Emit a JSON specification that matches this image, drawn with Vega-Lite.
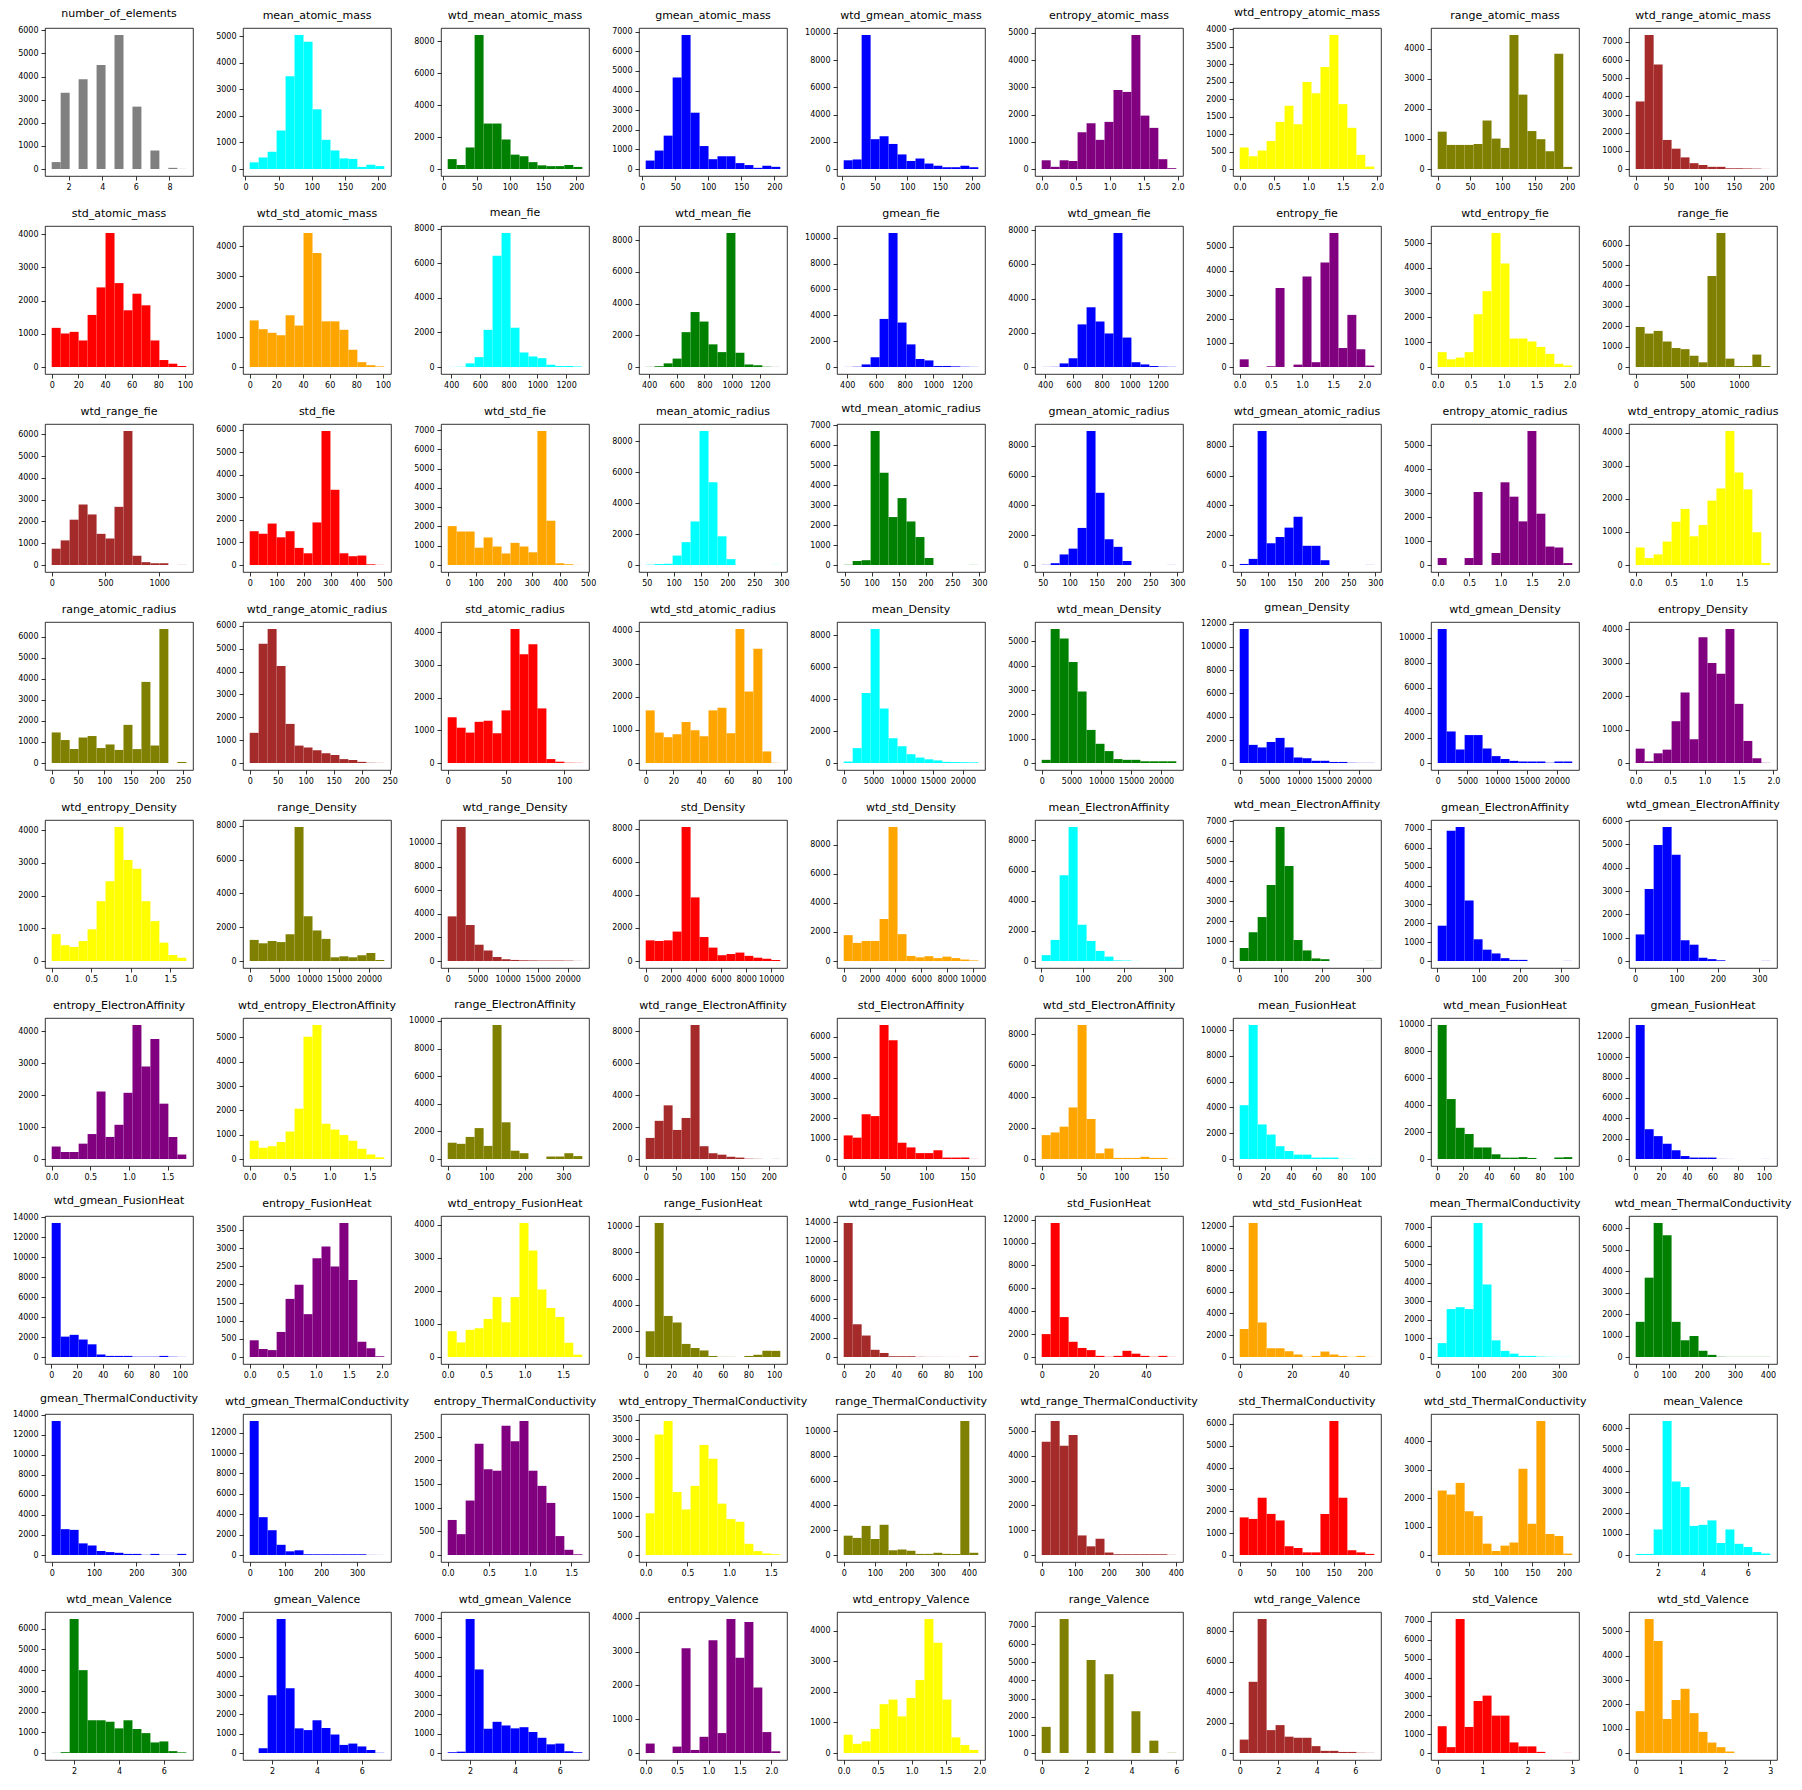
{
"$schema":"https://vega.github.io/schema/vega-lite/v6.json",
"background":"white",
"padding":{"left":12,"top":7,"right":5,"bottom":5},
"bounds":"flush",
"datasets":{"bins":[
{"k":0,"a":1,"b":1.533,"n":300},{"k":0,"a":1.533,"b":2.067,"n":3300},{"k":0,"a":2.067,"b":2.6,"n":0},{"k":0,"a":2.6,"b":3.133,"n":3880},{"k":0,"a":3.133,"b":3.667,"n":0},{"k":0,"a":3.667,"b":4.2,"n":4500},{"k":0,"a":4.2,"b":4.733,"n":0},{"k":0,"a":4.733,"b":5.267,"n":5800},{"k":0,"a":5.267,"b":5.8,"n":0},{"k":0,"a":5.8,"b":6.333,"n":2700},{"k":0,"a":6.333,"b":6.867,"n":0},{"k":0,"a":6.867,"b":7.4,"n":800},{"k":0,"a":7.4,"b":7.933,"n":0},{"k":0,"a":7.933,"b":8.467,"n":50},{"k":0,"a":8.467,"b":9,"n":5},
{"k":1,"a":6.4,"b":19.9,"n":250},{"k":1,"a":19.9,"b":33.4,"n":430},{"k":1,"a":33.4,"b":46.9,"n":650},{"k":1,"a":46.9,"b":60.4,"n":1450},{"k":1,"a":60.4,"b":73.9,"n":3500},{"k":1,"a":73.9,"b":87.4,"n":5050},{"k":1,"a":87.4,"b":101,"n":4800},{"k":1,"a":101,"b":114.5,"n":2250},{"k":1,"a":114.5,"b":128,"n":1100},{"k":1,"a":128,"b":141.5,"n":700},{"k":1,"a":141.5,"b":155,"n":400},{"k":1,"a":155,"b":168.5,"n":380},{"k":1,"a":168.5,"b":182,"n":80},{"k":1,"a":182,"b":195.5,"n":160},{"k":1,"a":195.5,"b":209,"n":110},
{"k":2,"a":6.4,"b":19.9,"n":620},{"k":2,"a":19.9,"b":33.4,"n":250},{"k":2,"a":33.4,"b":46.9,"n":1350},{"k":2,"a":46.9,"b":60.4,"n":8400},{"k":2,"a":60.4,"b":73.9,"n":2850},{"k":2,"a":73.9,"b":87.4,"n":2850},{"k":2,"a":87.4,"b":101,"n":1850},{"k":2,"a":101,"b":114.5,"n":900},{"k":2,"a":114.5,"b":128,"n":800},{"k":2,"a":128,"b":141.5,"n":430},{"k":2,"a":141.5,"b":155,"n":230},{"k":2,"a":155,"b":168.5,"n":180},{"k":2,"a":168.5,"b":182,"n":180},{"k":2,"a":182,"b":195.5,"n":250},{"k":2,"a":195.5,"b":209,"n":130},
{"k":3,"a":5.3,"b":18.9,"n":430},{"k":3,"a":18.9,"b":32.5,"n":940},{"k":3,"a":32.5,"b":46.1,"n":1700},{"k":3,"a":46.1,"b":59.6,"n":4670},{"k":3,"a":59.6,"b":73.2,"n":6830},{"k":3,"a":73.2,"b":86.8,"n":2870},{"k":3,"a":86.8,"b":100.4,"n":1170},{"k":3,"a":100.4,"b":113.9,"n":500},{"k":3,"a":113.9,"b":127.5,"n":650},{"k":3,"a":127.5,"b":141.1,"n":650},{"k":3,"a":141.1,"b":154.7,"n":300},{"k":3,"a":154.7,"b":168.3,"n":200},{"k":3,"a":168.3,"b":181.8,"n":60},{"k":3,"a":181.8,"b":195.4,"n":170},{"k":3,"a":195.4,"b":209,"n":110},
{"k":4,"a":2,"b":15.8,"n":640},{"k":4,"a":15.8,"b":29.6,"n":700},{"k":4,"a":29.6,"b":43.4,"n":9840},{"k":4,"a":43.4,"b":57.2,"n":2190},{"k":4,"a":57.2,"b":71,"n":2400},{"k":4,"a":71,"b":84.8,"n":1840},{"k":4,"a":84.8,"b":98.6,"n":1070},{"k":4,"a":98.6,"b":112.4,"n":590},{"k":4,"a":112.4,"b":126.2,"n":770},{"k":4,"a":126.2,"b":140,"n":400},{"k":4,"a":140,"b":153.8,"n":240},{"k":4,"a":153.8,"b":167.6,"n":130},{"k":4,"a":167.6,"b":181.4,"n":130},{"k":4,"a":181.4,"b":195.2,"n":240},{"k":4,"a":195.2,"b":209,"n":130},
{"k":5,"a":0,"b":0.132,"n":320},{"k":5,"a":0.132,"b":0.264,"n":80},{"k":5,"a":0.264,"b":0.396,"n":320},{"k":5,"a":0.396,"b":0.528,"n":290},{"k":5,"a":0.528,"b":0.66,"n":1350},{"k":5,"a":0.66,"b":0.792,"n":1680},{"k":5,"a":0.792,"b":0.924,"n":1070},{"k":5,"a":0.924,"b":1.056,"n":1730},{"k":5,"a":1.056,"b":1.188,"n":2900},{"k":5,"a":1.188,"b":1.32,"n":2830},{"k":5,"a":1.32,"b":1.452,"n":4920},{"k":5,"a":1.452,"b":1.584,"n":1960},{"k":5,"a":1.584,"b":1.716,"n":1510},{"k":5,"a":1.716,"b":1.848,"n":360},{"k":5,"a":1.848,"b":1.98,"n":30},
{"k":6,"a":0,"b":0.131,"n":615},{"k":6,"a":0.131,"b":0.261,"n":365},{"k":6,"a":0.261,"b":0.392,"n":530},{"k":6,"a":0.392,"b":0.522,"n":800},{"k":6,"a":0.522,"b":0.653,"n":1350},{"k":6,"a":0.653,"b":0.783,"n":1810},{"k":6,"a":0.783,"b":0.914,"n":1280},{"k":6,"a":0.914,"b":1.044,"n":2490},{"k":6,"a":1.044,"b":1.175,"n":2170},{"k":6,"a":1.175,"b":1.305,"n":2920},{"k":6,"a":1.305,"b":1.436,"n":3840},{"k":6,"a":1.436,"b":1.566,"n":1860},{"k":6,"a":1.566,"b":1.697,"n":1180},{"k":6,"a":1.697,"b":1.827,"n":405},{"k":6,"a":1.827,"b":1.958,"n":70},
{"k":7,"a":0,"b":13.9,"n":1240},{"k":7,"a":13.9,"b":27.7,"n":800},{"k":7,"a":27.7,"b":41.6,"n":800},{"k":7,"a":41.6,"b":55.5,"n":800},{"k":7,"a":55.5,"b":69.3,"n":830},{"k":7,"a":69.3,"b":83.2,"n":1610},{"k":7,"a":83.2,"b":97.1,"n":1010},{"k":7,"a":97.1,"b":110.9,"n":700},{"k":7,"a":110.9,"b":124.8,"n":4450},{"k":7,"a":124.8,"b":138.6,"n":2470},{"k":7,"a":138.6,"b":152.5,"n":1260},{"k":7,"a":152.5,"b":166.4,"n":990},{"k":7,"a":166.4,"b":180.2,"n":590},{"k":7,"a":180.2,"b":194.1,"n":3830},{"k":7,"a":194.1,"b":208,"n":70},
{"k":8,"a":0,"b":13.7,"n":3720},{"k":8,"a":13.7,"b":27.4,"n":7380},{"k":8,"a":27.4,"b":41.1,"n":5760},{"k":8,"a":41.1,"b":54.8,"n":1600},{"k":8,"a":54.8,"b":68.5,"n":1120},{"k":8,"a":68.5,"b":82.2,"n":640},{"k":8,"a":82.2,"b":95.9,"n":320},{"k":8,"a":95.9,"b":109.6,"n":220},{"k":8,"a":109.6,"b":123.4,"n":120},{"k":8,"a":123.4,"b":137.1,"n":120},{"k":8,"a":137.1,"b":150.8,"n":40},{"k":8,"a":150.8,"b":164.5,"n":40},{"k":8,"a":164.5,"b":178.2,"n":30},{"k":8,"a":178.2,"b":191.9,"n":20},{"k":8,"a":191.9,"b":205.6,"n":5},
{"k":9,"a":0,"b":6.73,"n":1180},{"k":9,"a":6.73,"b":13.47,"n":1010},{"k":9,"a":13.47,"b":20.2,"n":1060},{"k":9,"a":20.2,"b":26.94,"n":800},{"k":9,"a":26.94,"b":33.67,"n":1570},{"k":9,"a":33.67,"b":40.41,"n":2400},{"k":9,"a":40.41,"b":47.14,"n":4040},{"k":9,"a":47.14,"b":53.88,"n":2530},{"k":9,"a":53.88,"b":60.61,"n":1710},{"k":9,"a":60.61,"b":67.35,"n":2210},{"k":9,"a":67.35,"b":74.08,"n":1860},{"k":9,"a":74.08,"b":80.82,"n":800},{"k":9,"a":80.82,"b":87.55,"n":210},{"k":9,"a":87.55,"b":94.29,"n":100},{"k":9,"a":94.29,"b":101.02,"n":30},
{"k":10,"a":0,"b":6.73,"n":1540},{"k":10,"a":6.73,"b":13.47,"n":1250},{"k":10,"a":13.47,"b":20.2,"n":1130},{"k":10,"a":20.2,"b":26.94,"n":1050},{"k":10,"a":26.94,"b":33.67,"n":1710},{"k":10,"a":33.67,"b":40.41,"n":1370},{"k":10,"a":40.41,"b":47.14,"n":4430},{"k":10,"a":47.14,"b":53.88,"n":3770},{"k":10,"a":53.88,"b":60.61,"n":1510},{"k":10,"a":60.61,"b":67.35,"n":1510},{"k":10,"a":67.35,"b":74.08,"n":1230},{"k":10,"a":74.08,"b":80.82,"n":570},{"k":10,"a":80.82,"b":87.55,"n":160},{"k":10,"a":87.55,"b":94.29,"n":60},{"k":10,"a":94.29,"b":101.02,"n":20},
{"k":11,"a":375.5,"b":438,"n":5},{"k":11,"a":438,"b":500.5,"n":10},{"k":11,"a":500.5,"b":563,"n":210},{"k":11,"a":563,"b":625.5,"n":570},{"k":11,"a":625.5,"b":688.1,"n":2150},{"k":11,"a":688.1,"b":750.6,"n":6440},{"k":11,"a":750.6,"b":813.1,"n":7750},{"k":11,"a":813.1,"b":875.6,"n":2270},{"k":11,"a":875.6,"b":938.1,"n":840},{"k":11,"a":938.1,"b":1000.6,"n":610},{"k":11,"a":1000.6,"b":1063.1,"n":510},{"k":11,"a":1063.1,"b":1125.6,"n":130},{"k":11,"a":1125.6,"b":1188.1,"n":60},{"k":11,"a":1188.1,"b":1250.6,"n":60},{"k":11,"a":1250.6,"b":1313.1,"n":30},
{"k":12,"a":375.5,"b":440.3,"n":10},{"k":12,"a":440.3,"b":505.2,"n":50},{"k":12,"a":505.2,"b":570,"n":230},{"k":12,"a":570,"b":634.8,"n":530},{"k":12,"a":634.8,"b":699.7,"n":2200},{"k":12,"a":699.7,"b":764.5,"n":3470},{"k":12,"a":764.5,"b":829.3,"n":2870},{"k":12,"a":829.3,"b":894.2,"n":1430},{"k":12,"a":894.2,"b":959,"n":940},{"k":12,"a":959,"b":1023.8,"n":8460},{"k":12,"a":1023.8,"b":1088.7,"n":900},{"k":12,"a":1088.7,"b":1153.5,"n":160},{"k":12,"a":1153.5,"b":1218.3,"n":110},{"k":12,"a":1218.3,"b":1283.2,"n":10},{"k":12,"a":1283.2,"b":1348,"n":5},
{"k":13,"a":375.5,"b":438,"n":5},{"k":13,"a":438,"b":500.5,"n":20},{"k":13,"a":500.5,"b":563,"n":200},{"k":13,"a":563,"b":625.5,"n":760},{"k":13,"a":625.5,"b":688.1,"n":3720},{"k":13,"a":688.1,"b":750.6,"n":10370},{"k":13,"a":750.6,"b":813.1,"n":3440},{"k":13,"a":813.1,"b":875.6,"n":1750},{"k":13,"a":875.6,"b":938.1,"n":620},{"k":13,"a":938.1,"b":1000.6,"n":510},{"k":13,"a":1000.6,"b":1063.1,"n":80},{"k":13,"a":1063.1,"b":1125.6,"n":80},{"k":13,"a":1125.6,"b":1188.1,"n":50},{"k":13,"a":1188.1,"b":1250.6,"n":20},{"k":13,"a":1250.6,"b":1313.1,"n":10},
{"k":14,"a":375.5,"b":439,"n":5},{"k":14,"a":439,"b":502.4,"n":10},{"k":14,"a":502.4,"b":565.9,"n":210},{"k":14,"a":565.9,"b":629.4,"n":510},{"k":14,"a":629.4,"b":692.9,"n":2490},{"k":14,"a":692.9,"b":756.3,"n":3490},{"k":14,"a":756.3,"b":819.8,"n":2660},{"k":14,"a":819.8,"b":883.3,"n":1960},{"k":14,"a":883.3,"b":946.8,"n":7830},{"k":14,"a":946.8,"b":1010.2,"n":1720},{"k":14,"a":1010.2,"b":1073.7,"n":280},{"k":14,"a":1073.7,"b":1137.2,"n":150},{"k":14,"a":1137.2,"b":1200.7,"n":60},{"k":14,"a":1200.7,"b":1264.1,"n":20},{"k":14,"a":1264.1,"b":1327.6,"n":10},
{"k":15,"a":0,"b":0.144,"n":320},{"k":15,"a":0.144,"b":0.288,"n":0},{"k":15,"a":0.288,"b":0.432,"n":0},{"k":15,"a":0.432,"b":0.575,"n":30},{"k":15,"a":0.575,"b":0.719,"n":3290},{"k":15,"a":0.719,"b":0.863,"n":0},{"k":15,"a":0.863,"b":1.007,"n":100},{"k":15,"a":1.007,"b":1.151,"n":3770},{"k":15,"a":1.151,"b":1.295,"n":200},{"k":15,"a":1.295,"b":1.439,"n":4350},{"k":15,"a":1.439,"b":1.583,"n":5580},{"k":15,"a":1.583,"b":1.726,"n":790},{"k":15,"a":1.726,"b":1.87,"n":2170},{"k":15,"a":1.87,"b":2.014,"n":740},{"k":15,"a":2.014,"b":2.158,"n":60},
{"k":16,"a":0,"b":0.136,"n":600},{"k":16,"a":0.136,"b":0.272,"n":310},{"k":16,"a":0.272,"b":0.408,"n":380},{"k":16,"a":0.408,"b":0.544,"n":600},{"k":16,"a":0.544,"b":0.679,"n":2130},{"k":16,"a":0.679,"b":0.815,"n":3060},{"k":16,"a":0.815,"b":0.951,"n":5410},{"k":16,"a":0.951,"b":1.087,"n":4180},{"k":16,"a":1.087,"b":1.223,"n":1150},{"k":16,"a":1.223,"b":1.359,"n":1150},{"k":16,"a":1.359,"b":1.495,"n":1030},{"k":16,"a":1.495,"b":1.63,"n":810},{"k":16,"a":1.63,"b":1.766,"n":530},{"k":16,"a":1.766,"b":1.902,"n":130},{"k":16,"a":1.902,"b":2.038,"n":60},
{"k":17,"a":0,"b":87,"n":1960},{"k":17,"a":87,"b":173.9,"n":1640},{"k":17,"a":173.9,"b":260.9,"n":1770},{"k":17,"a":260.9,"b":347.9,"n":1250},{"k":17,"a":347.9,"b":434.8,"n":930},{"k":17,"a":434.8,"b":521.8,"n":875},{"k":17,"a":521.8,"b":608.8,"n":550},{"k":17,"a":608.8,"b":695.7,"n":230},{"k":17,"a":695.7,"b":782.7,"n":4460},{"k":17,"a":782.7,"b":869.7,"n":6570},{"k":17,"a":869.7,"b":956.6,"n":410},{"k":17,"a":956.6,"b":1043.6,"n":50},{"k":17,"a":1043.6,"b":1130.6,"n":50},{"k":17,"a":1130.6,"b":1217.5,"n":610},{"k":17,"a":1217.5,"b":1304.5,"n":50},
{"k":18,"a":0,"b":83.5,"n":750},{"k":18,"a":83.5,"b":166.9,"n":1130},{"k":18,"a":166.9,"b":250.4,"n":2080},{"k":18,"a":250.4,"b":333.8,"n":2780},{"k":18,"a":333.8,"b":417.3,"n":2320},{"k":18,"a":417.3,"b":500.8,"n":1430},{"k":18,"a":500.8,"b":584.2,"n":1220},{"k":18,"a":584.2,"b":667.7,"n":2670},{"k":18,"a":667.7,"b":751.1,"n":6150},{"k":18,"a":751.1,"b":834.6,"n":430},{"k":18,"a":834.6,"b":918.1,"n":130},{"k":18,"a":918.1,"b":1001.5,"n":80},{"k":18,"a":1001.5,"b":1085,"n":80},{"k":18,"a":1085,"b":1168.4,"n":5},{"k":18,"a":1168.4,"b":1251.9,"n":5},
{"k":19,"a":0,"b":33.3,"n":1500},{"k":19,"a":33.3,"b":66.6,"n":1390},{"k":19,"a":66.6,"b":99.9,"n":1840},{"k":19,"a":99.9,"b":133.2,"n":1230},{"k":19,"a":133.2,"b":166.6,"n":1500},{"k":19,"a":166.6,"b":199.9,"n":760},{"k":19,"a":199.9,"b":233.2,"n":520},{"k":19,"a":233.2,"b":266.5,"n":1890},{"k":19,"a":266.5,"b":299.8,"n":5950},{"k":19,"a":299.8,"b":333.1,"n":3340},{"k":19,"a":333.1,"b":366.4,"n":520},{"k":19,"a":366.4,"b":399.7,"n":390},{"k":19,"a":399.7,"b":433,"n":420},{"k":19,"a":433,"b":466.4,"n":30},{"k":19,"a":466.4,"b":499.7,"n":5},
{"k":20,"a":0,"b":31.9,"n":2020},{"k":20,"a":31.9,"b":63.9,"n":1740},{"k":20,"a":63.9,"b":95.8,"n":1740},{"k":20,"a":95.8,"b":127.8,"n":900},{"k":20,"a":127.8,"b":159.7,"n":1430},{"k":20,"a":159.7,"b":191.7,"n":960},{"k":20,"a":191.7,"b":223.6,"n":600},{"k":20,"a":223.6,"b":255.6,"n":1150},{"k":20,"a":255.6,"b":287.5,"n":960},{"k":20,"a":287.5,"b":319.4,"n":660},{"k":20,"a":319.4,"b":351.4,"n":6960},{"k":20,"a":351.4,"b":383.3,"n":2300},{"k":20,"a":383.3,"b":415.3,"n":90},{"k":20,"a":415.3,"b":447.2,"n":40},{"k":20,"a":447.2,"b":479.2,"n":5},
{"k":21,"a":48,"b":64.7,"n":20},{"k":21,"a":64.7,"b":81.3,"n":60},{"k":21,"a":81.3,"b":98,"n":80},{"k":21,"a":98,"b":114.7,"n":610},{"k":21,"a":114.7,"b":131.3,"n":1480},{"k":21,"a":131.3,"b":148,"n":2820},{"k":21,"a":148,"b":164.7,"n":8680},{"k":21,"a":164.7,"b":181.3,"n":5360},{"k":21,"a":181.3,"b":198,"n":1860},{"k":21,"a":198,"b":214.7,"n":380},{"k":21,"a":214.7,"b":231.3,"n":0},{"k":21,"a":231.3,"b":248,"n":0},{"k":21,"a":248,"b":264.7,"n":0},{"k":21,"a":264.7,"b":281.3,"n":0},{"k":21,"a":281.3,"b":298,"n":5},
{"k":22,"a":48,"b":64.7,"n":10},{"k":22,"a":64.7,"b":81.3,"n":200},{"k":22,"a":81.3,"b":98,"n":240},{"k":22,"a":98,"b":114.7,"n":6710},{"k":22,"a":114.7,"b":131.3,"n":4620},{"k":22,"a":131.3,"b":148,"n":2400},{"k":22,"a":148,"b":164.7,"n":3350},{"k":22,"a":164.7,"b":181.3,"n":2180},{"k":22,"a":181.3,"b":198,"n":1400},{"k":22,"a":198,"b":214.7,"n":350},{"k":22,"a":214.7,"b":231.3,"n":0},{"k":22,"a":231.3,"b":248,"n":0},{"k":22,"a":248,"b":264.7,"n":0},{"k":22,"a":264.7,"b":281.3,"n":0},{"k":22,"a":281.3,"b":298,"n":5},
{"k":23,"a":48,"b":64.7,"n":10},{"k":23,"a":64.7,"b":81.3,"n":120},{"k":23,"a":81.3,"b":98,"n":710},{"k":23,"a":98,"b":114.7,"n":1100},{"k":23,"a":114.7,"b":131.3,"n":2490},{"k":23,"a":131.3,"b":148,"n":9000},{"k":23,"a":148,"b":164.7,"n":4850},{"k":23,"a":164.7,"b":181.3,"n":1730},{"k":23,"a":181.3,"b":198,"n":1220},{"k":23,"a":198,"b":214.7,"n":270},{"k":23,"a":214.7,"b":231.3,"n":0},{"k":23,"a":231.3,"b":248,"n":0},{"k":23,"a":248,"b":264.7,"n":0},{"k":23,"a":264.7,"b":281.3,"n":0},{"k":23,"a":281.3,"b":298,"n":5},
{"k":24,"a":48,"b":64.7,"n":70},{"k":24,"a":64.7,"b":81.3,"n":410},{"k":24,"a":81.3,"b":98,"n":9000},{"k":24,"a":98,"b":114.7,"n":1460},{"k":24,"a":114.7,"b":131.3,"n":1880},{"k":24,"a":131.3,"b":148,"n":2510},{"k":24,"a":148,"b":164.7,"n":3240},{"k":24,"a":164.7,"b":181.3,"n":1290},{"k":24,"a":181.3,"b":198,"n":1290},{"k":24,"a":198,"b":214.7,"n":320},{"k":24,"a":214.7,"b":231.3,"n":0},{"k":24,"a":231.3,"b":248,"n":0},{"k":24,"a":248,"b":264.7,"n":0},{"k":24,"a":264.7,"b":281.3,"n":0},{"k":24,"a":281.3,"b":298,"n":5},
{"k":25,"a":0,"b":0.143,"n":290},{"k":25,"a":0.143,"b":0.285,"n":0},{"k":25,"a":0.285,"b":0.428,"n":0},{"k":25,"a":0.428,"b":0.571,"n":290},{"k":25,"a":0.571,"b":0.713,"n":3050},{"k":25,"a":0.713,"b":0.856,"n":0},{"k":25,"a":0.856,"b":0.999,"n":500},{"k":25,"a":0.999,"b":1.141,"n":3450},{"k":25,"a":1.141,"b":1.284,"n":2850},{"k":25,"a":1.284,"b":1.427,"n":1820},{"k":25,"a":1.427,"b":1.569,"n":5590},{"k":25,"a":1.569,"b":1.712,"n":2140},{"k":25,"a":1.712,"b":1.855,"n":770},{"k":25,"a":1.855,"b":1.997,"n":730},{"k":25,"a":1.997,"b":2.14,"n":80},
{"k":26,"a":0,"b":0.127,"n":530},{"k":26,"a":0.127,"b":0.254,"n":210},{"k":26,"a":0.254,"b":0.381,"n":320},{"k":26,"a":0.381,"b":0.508,"n":710},{"k":26,"a":0.508,"b":0.635,"n":1310},{"k":26,"a":0.635,"b":0.762,"n":1700},{"k":26,"a":0.762,"b":0.889,"n":870},{"k":26,"a":0.889,"b":1.015,"n":1210},{"k":26,"a":1.015,"b":1.142,"n":1950},{"k":26,"a":1.142,"b":1.269,"n":2320},{"k":26,"a":1.269,"b":1.396,"n":4060},{"k":26,"a":1.396,"b":1.523,"n":2800},{"k":26,"a":1.523,"b":1.65,"n":2290},{"k":26,"a":1.65,"b":1.777,"n":990},{"k":26,"a":1.777,"b":1.904,"n":60},
{"k":27,"a":0,"b":17.1,"n":1450},{"k":27,"a":17.1,"b":34.1,"n":1090},{"k":27,"a":34.1,"b":51.2,"n":660},{"k":27,"a":51.2,"b":68.3,"n":1210},{"k":27,"a":68.3,"b":85.3,"n":1280},{"k":27,"a":85.3,"b":102.4,"n":710},{"k":27,"a":102.4,"b":119.5,"n":880},{"k":27,"a":119.5,"b":136.5,"n":620},{"k":27,"a":136.5,"b":153.6,"n":1810},{"k":27,"a":153.6,"b":170.7,"n":660},{"k":27,"a":170.7,"b":187.7,"n":3850},{"k":27,"a":187.7,"b":204.8,"n":830},{"k":27,"a":204.8,"b":221.9,"n":6360},{"k":27,"a":221.9,"b":238.9,"n":0},{"k":27,"a":238.9,"b":256,"n":50},
{"k":28,"a":0,"b":16,"n":1320},{"k":28,"a":16,"b":32,"n":5220},{"k":28,"a":32,"b":48,"n":5860},{"k":28,"a":48,"b":64,"n":4240},{"k":28,"a":64,"b":80.1,"n":1710},{"k":28,"a":80.1,"b":96.1,"n":760},{"k":28,"a":96.1,"b":112.1,"n":680},{"k":28,"a":112.1,"b":128.1,"n":560},{"k":28,"a":128.1,"b":144.1,"n":430},{"k":28,"a":144.1,"b":160.1,"n":350},{"k":28,"a":160.1,"b":176.1,"n":170},{"k":28,"a":176.1,"b":192.1,"n":130},{"k":28,"a":192.1,"b":208.1,"n":50},{"k":28,"a":208.1,"b":224.2,"n":10},{"k":28,"a":224.2,"b":240.2,"n":5},
{"k":29,"a":0,"b":7.7,"n":1400},{"k":29,"a":7.7,"b":15.4,"n":1080},{"k":29,"a":15.4,"b":23.1,"n":930},{"k":29,"a":23.1,"b":30.8,"n":1260},{"k":29,"a":30.8,"b":38.5,"n":1290},{"k":29,"a":38.5,"b":46.2,"n":910},{"k":29,"a":46.2,"b":53.9,"n":1610},{"k":29,"a":53.9,"b":61.6,"n":4100},{"k":29,"a":61.6,"b":69.3,"n":3330},{"k":29,"a":69.3,"b":77,"n":3630},{"k":29,"a":77,"b":84.7,"n":1670},{"k":29,"a":84.7,"b":92.4,"n":120},{"k":29,"a":92.4,"b":100.1,"n":40},{"k":29,"a":100.1,"b":107.8,"n":5},{"k":29,"a":107.8,"b":115.5,"n":5},
{"k":30,"a":0,"b":6.48,"n":1590},{"k":30,"a":6.48,"b":12.95,"n":920},{"k":30,"a":12.95,"b":19.43,"n":780},{"k":30,"a":19.43,"b":25.9,"n":870},{"k":30,"a":25.9,"b":32.38,"n":1240},{"k":30,"a":32.38,"b":38.86,"n":990},{"k":30,"a":38.86,"b":45.33,"n":810},{"k":30,"a":45.33,"b":51.81,"n":1590},{"k":30,"a":51.81,"b":58.28,"n":1670},{"k":30,"a":58.28,"b":64.76,"n":900},{"k":30,"a":64.76,"b":71.24,"n":4050},{"k":30,"a":71.24,"b":77.71,"n":2160},{"k":30,"a":77.71,"b":84.19,"n":3450},{"k":30,"a":84.19,"b":90.66,"n":350},{"k":30,"a":90.66,"b":97.14,"n":5},
{"k":31,"a":1.4,"b":1507,"n":90},{"k":31,"a":1507,"b":3013,"n":930},{"k":31,"a":3013,"b":4519,"n":4390},{"k":31,"a":4519,"b":6025,"n":8390},{"k":31,"a":6025,"b":7531,"n":3410},{"k":31,"a":7531,"b":9037,"n":1550},{"k":31,"a":9037,"b":10543,"n":1050},{"k":31,"a":10543,"b":12049,"n":550},{"k":31,"a":12049,"b":13555,"n":340},{"k":31,"a":13555,"b":15060,"n":230},{"k":31,"a":15060,"b":16566,"n":160},{"k":31,"a":16566,"b":18072,"n":70},{"k":31,"a":18072,"b":19578,"n":60},{"k":31,"a":19578,"b":21084,"n":50},{"k":31,"a":21084,"b":22590,"n":40},
{"k":32,"a":1.4,"b":1507,"n":130},{"k":32,"a":1507,"b":3013,"n":5510},{"k":32,"a":3013,"b":4519,"n":5120},{"k":32,"a":4519,"b":6025,"n":4150},{"k":32,"a":6025,"b":7531,"n":2940},{"k":32,"a":7531,"b":9037,"n":1360},{"k":32,"a":9037,"b":10543,"n":790},{"k":32,"a":10543,"b":12049,"n":490},{"k":32,"a":12049,"b":13555,"n":160},{"k":32,"a":13555,"b":15060,"n":130},{"k":32,"a":15060,"b":16566,"n":130},{"k":32,"a":16566,"b":18072,"n":70},{"k":32,"a":18072,"b":19578,"n":70},{"k":32,"a":19578,"b":21084,"n":70},{"k":32,"a":21084,"b":22590,"n":70},
{"k":33,"a":1.4,"b":1507,"n":11530},{"k":33,"a":1507,"b":3013,"n":1560},{"k":33,"a":3013,"b":4519,"n":1340},{"k":33,"a":4519,"b":6025,"n":1810},{"k":33,"a":6025,"b":7531,"n":2160},{"k":33,"a":7531,"b":9037,"n":1340},{"k":33,"a":9037,"b":10543,"n":470},{"k":33,"a":10543,"b":12049,"n":410},{"k":33,"a":12049,"b":13555,"n":190},{"k":33,"a":13555,"b":15060,"n":190},{"k":33,"a":15060,"b":16566,"n":90},{"k":33,"a":16566,"b":18072,"n":90},{"k":33,"a":18072,"b":19578,"n":20},{"k":33,"a":19578,"b":21084,"n":10},{"k":33,"a":21084,"b":22590,"n":10},
{"k":34,"a":0.7,"b":1507,"n":10700},{"k":34,"a":1507,"b":3013,"n":2520},{"k":34,"a":3013,"b":4519,"n":1070},{"k":34,"a":4519,"b":6025,"n":2230},{"k":34,"a":6025,"b":7531,"n":2230},{"k":34,"a":7531,"b":9037,"n":1160},{"k":34,"a":9037,"b":10543,"n":550},{"k":34,"a":10543,"b":12049,"n":320},{"k":34,"a":12049,"b":13555,"n":170},{"k":34,"a":13555,"b":15060,"n":120},{"k":34,"a":15060,"b":16566,"n":120},{"k":34,"a":16566,"b":18072,"n":120},{"k":34,"a":18072,"b":19578,"n":20},{"k":34,"a":19578,"b":21084,"n":120},{"k":34,"a":21084,"b":22590,"n":120},
{"k":35,"a":0,"b":0.13,"n":430},{"k":35,"a":0.13,"b":0.261,"n":50},{"k":35,"a":0.261,"b":0.391,"n":290},{"k":35,"a":0.391,"b":0.521,"n":400},{"k":35,"a":0.521,"b":0.651,"n":1250},{"k":35,"a":0.651,"b":0.782,"n":2110},{"k":35,"a":0.782,"b":0.912,"n":710},{"k":35,"a":0.912,"b":1.042,"n":3760},{"k":35,"a":1.042,"b":1.172,"n":2990},{"k":35,"a":1.172,"b":1.303,"n":2670},{"k":35,"a":1.303,"b":1.433,"n":4010},{"k":35,"a":1.433,"b":1.563,"n":1770},{"k":35,"a":1.563,"b":1.693,"n":660},{"k":35,"a":1.693,"b":1.824,"n":140},{"k":35,"a":1.824,"b":1.954,"n":5},
{"k":36,"a":0,"b":0.114,"n":820},{"k":36,"a":0.114,"b":0.227,"n":480},{"k":36,"a":0.227,"b":0.341,"n":430},{"k":36,"a":0.341,"b":0.454,"n":610},{"k":36,"a":0.454,"b":0.568,"n":970},{"k":36,"a":0.568,"b":0.681,"n":1830},{"k":36,"a":0.681,"b":0.795,"n":2440},{"k":36,"a":0.795,"b":0.908,"n":4100},{"k":36,"a":0.908,"b":1.022,"n":3090},{"k":36,"a":1.022,"b":1.135,"n":2820},{"k":36,"a":1.135,"b":1.249,"n":1830},{"k":36,"a":1.249,"b":1.362,"n":1220},{"k":36,"a":1.362,"b":1.476,"n":560},{"k":36,"a":1.476,"b":1.589,"n":180},{"k":36,"a":1.589,"b":1.703,"n":100},
{"k":37,"a":0,"b":1506,"n":1250},{"k":37,"a":1506,"b":3012,"n":1050},{"k":37,"a":3012,"b":4518,"n":1180},{"k":37,"a":4518,"b":6024,"n":1120},{"k":37,"a":6024,"b":7530,"n":1590},{"k":37,"a":7530,"b":9035,"n":7940},{"k":37,"a":9035,"b":10541,"n":2650},{"k":37,"a":10541,"b":12047,"n":1810},{"k":37,"a":12047,"b":13553,"n":1310},{"k":37,"a":13553,"b":15059,"n":220},{"k":37,"a":15059,"b":16565,"n":280},{"k":37,"a":16565,"b":18071,"n":220},{"k":37,"a":18071,"b":19577,"n":340},{"k":37,"a":19577,"b":21083,"n":470},{"k":37,"a":21083,"b":22589,"n":60},
{"k":38,"a":0,"b":1496,"n":3780},{"k":38,"a":1496,"b":2991,"n":11350},{"k":38,"a":2991,"b":4487,"n":3050},{"k":38,"a":4487,"b":5982,"n":1380},{"k":38,"a":5982,"b":7478,"n":890},{"k":38,"a":7478,"b":8974,"n":340},{"k":38,"a":8974,"b":10469,"n":150},{"k":38,"a":10469,"b":11965,"n":90},{"k":38,"a":11965,"b":13460,"n":60},{"k":38,"a":13460,"b":14956,"n":50},{"k":38,"a":14956,"b":16452,"n":40},{"k":38,"a":16452,"b":17947,"n":40},{"k":38,"a":17947,"b":19443,"n":40},{"k":38,"a":19443,"b":20938,"n":30},{"k":38,"a":20938,"b":22434,"n":10},
{"k":39,"a":0,"b":715,"n":1250},{"k":39,"a":715,"b":1430,"n":1210},{"k":39,"a":1430,"b":2145,"n":1250},{"k":39,"a":2145,"b":2860,"n":1780},{"k":39,"a":2860,"b":3575,"n":8110},{"k":39,"a":3575,"b":4290,"n":3850},{"k":39,"a":4290,"b":5004,"n":1450},{"k":39,"a":5004,"b":5719,"n":810},{"k":39,"a":5719,"b":6434,"n":350},{"k":39,"a":6434,"b":7149,"n":420},{"k":39,"a":7149,"b":7864,"n":510},{"k":39,"a":7864,"b":8579,"n":310},{"k":39,"a":8579,"b":9294,"n":200},{"k":39,"a":9294,"b":10009,"n":130},{"k":39,"a":10009,"b":10724,"n":60},
{"k":40,"a":0,"b":694,"n":1780},{"k":40,"a":694,"b":1388,"n":1250},{"k":40,"a":1388,"b":2082,"n":1380},{"k":40,"a":2082,"b":2776,"n":1380},{"k":40,"a":2776,"b":3470,"n":2900},{"k":40,"a":3470,"b":4164,"n":9230},{"k":40,"a":4164,"b":4858,"n":1850},{"k":40,"a":4858,"b":5552,"n":350},{"k":40,"a":5552,"b":6246,"n":250},{"k":40,"a":6246,"b":6940,"n":330},{"k":40,"a":6940,"b":7634,"n":200},{"k":40,"a":7634,"b":8328,"n":300},{"k":40,"a":8328,"b":9022,"n":200},{"k":40,"a":9022,"b":9716,"n":100},{"k":40,"a":9716,"b":10410,"n":40},
{"k":41,"a":1.5,"b":23.1,"n":390},{"k":41,"a":23.1,"b":44.8,"n":1400},{"k":41,"a":44.8,"b":66.4,"n":5690},{"k":41,"a":66.4,"b":88.1,"n":8890},{"k":41,"a":88.1,"b":109.7,"n":2410},{"k":41,"a":109.7,"b":131.3,"n":1330},{"k":41,"a":131.3,"b":153,"n":670},{"k":41,"a":153,"b":174.6,"n":290},{"k":41,"a":174.6,"b":196.3,"n":40},{"k":41,"a":196.3,"b":217.9,"n":30},{"k":41,"a":217.9,"b":239.5,"n":5},{"k":41,"a":239.5,"b":261.2,"n":0},{"k":41,"a":261.2,"b":282.8,"n":0},{"k":41,"a":282.8,"b":304.5,"n":0},{"k":41,"a":304.5,"b":326.1,"n":5},
{"k":42,"a":1.5,"b":23.1,"n":650},{"k":42,"a":23.1,"b":44.8,"n":1440},{"k":42,"a":44.8,"b":66.4,"n":2200},{"k":42,"a":66.4,"b":88.1,"n":3800},{"k":42,"a":88.1,"b":109.7,"n":6710},{"k":42,"a":109.7,"b":131.3,"n":4760},{"k":42,"a":131.3,"b":153,"n":1050},{"k":42,"a":153,"b":174.6,"n":530},{"k":42,"a":174.6,"b":196.3,"n":130},{"k":42,"a":196.3,"b":217.9,"n":90},{"k":42,"a":217.9,"b":239.5,"n":0},{"k":42,"a":239.5,"b":261.2,"n":0},{"k":42,"a":261.2,"b":282.8,"n":0},{"k":42,"a":282.8,"b":304.5,"n":0},{"k":42,"a":304.5,"b":326.1,"n":5},
{"k":43,"a":1.5,"b":23.1,"n":1870},{"k":43,"a":23.1,"b":44.8,"n":6900},{"k":43,"a":44.8,"b":66.4,"n":7100},{"k":43,"a":66.4,"b":88.1,"n":3210},{"k":43,"a":88.1,"b":109.7,"n":1150},{"k":43,"a":109.7,"b":131.3,"n":600},{"k":43,"a":131.3,"b":153,"n":400},{"k":43,"a":153,"b":174.6,"n":150},{"k":43,"a":174.6,"b":196.3,"n":60},{"k":43,"a":196.3,"b":217.9,"n":60},{"k":43,"a":217.9,"b":239.5,"n":0},{"k":43,"a":239.5,"b":261.2,"n":0},{"k":43,"a":261.2,"b":282.8,"n":0},{"k":43,"a":282.8,"b":304.5,"n":0},{"k":43,"a":304.5,"b":326.1,"n":5},
{"k":44,"a":1.5,"b":23.1,"n":1140},{"k":44,"a":23.1,"b":44.8,"n":3090},{"k":44,"a":44.8,"b":66.4,"n":4980},{"k":44,"a":66.4,"b":88.1,"n":5750},{"k":44,"a":88.1,"b":109.7,"n":4560},{"k":44,"a":109.7,"b":131.3,"n":890},{"k":44,"a":131.3,"b":153,"n":700},{"k":44,"a":153,"b":174.6,"n":140},{"k":44,"a":174.6,"b":196.3,"n":80},{"k":44,"a":196.3,"b":217.9,"n":30},{"k":44,"a":217.9,"b":239.5,"n":0},{"k":44,"a":239.5,"b":261.2,"n":0},{"k":44,"a":261.2,"b":282.8,"n":0},{"k":44,"a":282.8,"b":304.5,"n":0},{"k":44,"a":304.5,"b":326.1,"n":5},
{"k":45,"a":0,"b":0.116,"n":390},{"k":45,"a":0.116,"b":0.232,"n":220},{"k":45,"a":0.232,"b":0.349,"n":220},{"k":45,"a":0.349,"b":0.465,"n":480},{"k":45,"a":0.465,"b":0.581,"n":780},{"k":45,"a":0.581,"b":0.697,"n":2110},{"k":45,"a":0.697,"b":0.813,"n":690},{"k":45,"a":0.813,"b":0.93,"n":1070},{"k":45,"a":0.93,"b":1.046,"n":2070},{"k":45,"a":1.046,"b":1.162,"n":4190},{"k":45,"a":1.162,"b":1.278,"n":2890},{"k":45,"a":1.278,"b":1.394,"n":3750},{"k":45,"a":1.394,"b":1.511,"n":1730},{"k":45,"a":1.511,"b":1.627,"n":690},{"k":45,"a":1.627,"b":1.743,"n":140},
{"k":46,"a":0,"b":0.112,"n":750},{"k":46,"a":0.112,"b":0.224,"n":460},{"k":46,"a":0.224,"b":0.337,"n":520},{"k":46,"a":0.337,"b":0.449,"n":700},{"k":46,"a":0.449,"b":0.561,"n":1130},{"k":46,"a":0.561,"b":0.673,"n":2070},{"k":46,"a":0.673,"b":0.785,"n":5030},{"k":46,"a":0.785,"b":0.898,"n":5510},{"k":46,"a":0.898,"b":1.01,"n":1450},{"k":46,"a":1.01,"b":1.122,"n":1210},{"k":46,"a":1.122,"b":1.234,"n":985},{"k":46,"a":1.234,"b":1.346,"n":750},{"k":46,"a":1.346,"b":1.459,"n":420},{"k":46,"a":1.459,"b":1.571,"n":190},{"k":46,"a":1.571,"b":1.683,"n":70},
{"k":47,"a":0,"b":23.3,"n":1180},{"k":47,"a":23.3,"b":46.5,"n":1100},{"k":47,"a":46.5,"b":69.8,"n":1600},{"k":47,"a":69.8,"b":93.1,"n":2240},{"k":47,"a":93.1,"b":116.3,"n":950},{"k":47,"a":116.3,"b":139.6,"n":9710},{"k":47,"a":139.6,"b":162.9,"n":2660},{"k":47,"a":162.9,"b":186.1,"n":600},{"k":47,"a":186.1,"b":209.4,"n":420},{"k":47,"a":209.4,"b":232.7,"n":0},{"k":47,"a":232.7,"b":255.9,"n":0},{"k":47,"a":255.9,"b":279.2,"n":180},{"k":47,"a":279.2,"b":302.5,"n":180},{"k":47,"a":302.5,"b":325.7,"n":420},{"k":47,"a":325.7,"b":349,"n":210},
{"k":48,"a":0,"b":14.6,"n":1320},{"k":48,"a":14.6,"b":29.2,"n":2390},{"k":48,"a":29.2,"b":43.7,"n":3360},{"k":48,"a":43.7,"b":58.3,"n":1820},{"k":48,"a":58.3,"b":72.9,"n":2570},{"k":48,"a":72.9,"b":87.5,"n":8390},{"k":48,"a":87.5,"b":102.1,"n":800},{"k":48,"a":102.1,"b":116.6,"n":360},{"k":48,"a":116.6,"b":131.2,"n":270},{"k":48,"a":131.2,"b":145.8,"n":140},{"k":48,"a":145.8,"b":160.4,"n":90},{"k":48,"a":160.4,"b":175,"n":20},{"k":48,"a":175,"b":189.5,"n":10},{"k":48,"a":189.5,"b":204.1,"n":5},{"k":48,"a":204.1,"b":218.7,"n":5},
{"k":49,"a":0,"b":10.9,"n":1160},{"k":49,"a":10.9,"b":21.7,"n":1050},{"k":49,"a":21.7,"b":32.6,"n":2200},{"k":49,"a":32.6,"b":43.4,"n":2110},{"k":49,"a":43.4,"b":54.3,"n":6590},{"k":49,"a":54.3,"b":65.2,"n":5840},{"k":49,"a":65.2,"b":76,"n":800},{"k":49,"a":76,"b":86.9,"n":570},{"k":49,"a":86.9,"b":97.7,"n":290},{"k":49,"a":97.7,"b":108.6,"n":290},{"k":49,"a":108.6,"b":119.5,"n":430},{"k":49,"a":119.5,"b":130.3,"n":70},{"k":49,"a":130.3,"b":141.2,"n":70},{"k":49,"a":141.2,"b":152,"n":70},{"k":49,"a":152,"b":162.9,"n":5},
{"k":50,"a":0,"b":11.3,"n":1530},{"k":50,"a":11.3,"b":22.5,"n":1700},{"k":50,"a":22.5,"b":33.8,"n":2070},{"k":50,"a":33.8,"b":45.1,"n":3300},{"k":50,"a":45.1,"b":56.4,"n":8580},{"k":50,"a":56.4,"b":67.6,"n":2560},{"k":50,"a":67.6,"b":78.9,"n":370},{"k":50,"a":78.9,"b":90.2,"n":670},{"k":50,"a":90.2,"b":101.4,"n":70},{"k":50,"a":101.4,"b":112.7,"n":70},{"k":50,"a":112.7,"b":124,"n":70},{"k":50,"a":124,"b":135.3,"n":140},{"k":50,"a":135.3,"b":146.5,"n":70},{"k":50,"a":146.5,"b":157.8,"n":70},{"k":50,"a":157.8,"b":169.1,"n":5},
{"k":51,"a":0.22,"b":7.2,"n":4170},{"k":51,"a":7.2,"b":14.2,"n":10390},{"k":51,"a":14.2,"b":21.2,"n":2680},{"k":51,"a":21.2,"b":28.2,"n":1890},{"k":51,"a":28.2,"b":35.1,"n":990},{"k":51,"a":35.1,"b":42.1,"n":620},{"k":51,"a":42.1,"b":49.1,"n":340},{"k":51,"a":49.1,"b":56.1,"n":340},{"k":51,"a":56.1,"b":63.1,"n":110},{"k":51,"a":63.1,"b":70.1,"n":110},{"k":51,"a":70.1,"b":77.1,"n":110},{"k":51,"a":77.1,"b":84,"n":10},{"k":51,"a":84,"b":91,"n":10},{"k":51,"a":91,"b":98,"n":5},{"k":51,"a":98,"b":105,"n":5},
{"k":52,"a":0.22,"b":7.2,"n":9970},{"k":52,"a":7.2,"b":14.2,"n":4460},{"k":52,"a":14.2,"b":21.2,"n":2320},{"k":52,"a":21.2,"b":28.2,"n":1860},{"k":52,"a":28.2,"b":35.1,"n":860},{"k":52,"a":35.1,"b":42.1,"n":860},{"k":52,"a":42.1,"b":49.1,"n":350},{"k":52,"a":49.1,"b":56.1,"n":100},{"k":52,"a":56.1,"b":63.1,"n":100},{"k":52,"a":63.1,"b":70.1,"n":140},{"k":52,"a":70.1,"b":77.1,"n":80},{"k":52,"a":77.1,"b":84,"n":0},{"k":52,"a":84,"b":91,"n":0},{"k":52,"a":91,"b":98,"n":110},{"k":52,"a":98,"b":105,"n":140},
{"k":53,"a":0.22,"b":7.2,"n":13180},{"k":53,"a":7.2,"b":14.2,"n":2930},{"k":53,"a":14.2,"b":21.2,"n":2250},{"k":53,"a":21.2,"b":28.2,"n":1500},{"k":53,"a":28.2,"b":35.1,"n":860},{"k":53,"a":35.1,"b":42.1,"n":290},{"k":53,"a":42.1,"b":49.1,"n":140},{"k":53,"a":49.1,"b":56.1,"n":140},{"k":53,"a":56.1,"b":63.1,"n":140},{"k":53,"a":63.1,"b":70.1,"n":10},{"k":53,"a":70.1,"b":77.1,"n":5},{"k":53,"a":77.1,"b":84,"n":0},{"k":53,"a":84,"b":91,"n":0},{"k":53,"a":91,"b":98,"n":0},{"k":53,"a":98,"b":105,"n":5},
{"k":54,"a":0.22,"b":7.2,"n":13420},{"k":54,"a":7.2,"b":14.2,"n":2040},{"k":54,"a":14.2,"b":21.2,"n":2220},{"k":54,"a":21.2,"b":28.2,"n":1750},{"k":54,"a":28.2,"b":35.1,"n":1270},{"k":54,"a":35.1,"b":42.1,"n":250},{"k":54,"a":42.1,"b":49.1,"n":110},{"k":54,"a":49.1,"b":56.1,"n":110},{"k":54,"a":56.1,"b":63.1,"n":110},{"k":54,"a":63.1,"b":70.1,"n":30},{"k":54,"a":70.1,"b":77.1,"n":30},{"k":54,"a":77.1,"b":84,"n":30},{"k":54,"a":84,"b":91,"n":110},{"k":54,"a":91,"b":98,"n":30},{"k":54,"a":98,"b":105,"n":10},
{"k":55,"a":0,"b":0.136,"n":460},{"k":55,"a":0.136,"b":0.271,"n":220},{"k":55,"a":0.271,"b":0.407,"n":190},{"k":55,"a":0.407,"b":0.542,"n":690},{"k":55,"a":0.542,"b":0.678,"n":1600},{"k":55,"a":0.678,"b":0.814,"n":1990},{"k":55,"a":0.814,"b":0.949,"n":1180},{"k":55,"a":0.949,"b":1.085,"n":2720},{"k":55,"a":1.085,"b":1.22,"n":3040},{"k":55,"a":1.22,"b":1.356,"n":2490},{"k":55,"a":1.356,"b":1.492,"n":3690},{"k":55,"a":1.492,"b":1.627,"n":2120},{"k":55,"a":1.627,"b":1.763,"n":420},{"k":55,"a":1.763,"b":1.898,"n":240},{"k":55,"a":1.898,"b":2.034,"n":20},
{"k":56,"a":0,"b":0.117,"n":780},{"k":56,"a":0.117,"b":0.233,"n":440},{"k":56,"a":0.233,"b":0.35,"n":820},{"k":56,"a":0.35,"b":0.466,"n":870},{"k":56,"a":0.466,"b":0.583,"n":1150},{"k":56,"a":0.583,"b":0.699,"n":1810},{"k":56,"a":0.699,"b":0.816,"n":1050},{"k":56,"a":0.816,"b":0.932,"n":1810},{"k":56,"a":0.932,"b":1.049,"n":4050},{"k":56,"a":1.049,"b":1.165,"n":3220},{"k":56,"a":1.165,"b":1.282,"n":2040},{"k":56,"a":1.282,"b":1.398,"n":1480},{"k":56,"a":1.398,"b":1.515,"n":1210},{"k":56,"a":1.515,"b":1.631,"n":430},{"k":56,"a":1.631,"b":1.748,"n":70},
{"k":57,"a":0,"b":6.99,"n":1970},{"k":57,"a":6.99,"b":13.97,"n":10250},{"k":57,"a":13.97,"b":20.96,"n":3140},{"k":57,"a":20.96,"b":27.94,"n":2640},{"k":57,"a":27.94,"b":34.93,"n":1000},{"k":57,"a":34.93,"b":41.91,"n":690},{"k":57,"a":41.91,"b":48.9,"n":500},{"k":57,"a":48.9,"b":55.88,"n":80},{"k":57,"a":55.88,"b":62.87,"n":10},{"k":57,"a":62.87,"b":69.85,"n":10},{"k":57,"a":69.85,"b":76.84,"n":0},{"k":57,"a":76.84,"b":83.82,"n":80},{"k":57,"a":83.82,"b":90.81,"n":170},{"k":57,"a":90.81,"b":97.79,"n":470},{"k":57,"a":97.79,"b":104.78,"n":470},
{"k":58,"a":0,"b":6.84,"n":13920},{"k":58,"a":6.84,"b":13.69,"n":3400},{"k":58,"a":13.69,"b":20.53,"n":2230},{"k":58,"a":20.53,"b":27.38,"n":750},{"k":58,"a":27.38,"b":34.22,"n":420},{"k":58,"a":34.22,"b":41.07,"n":80},{"k":58,"a":41.07,"b":47.91,"n":80},{"k":58,"a":47.91,"b":54.76,"n":80},{"k":58,"a":54.76,"b":61.6,"n":20},{"k":58,"a":61.6,"b":68.45,"n":10},{"k":58,"a":68.45,"b":75.29,"n":10},{"k":58,"a":75.29,"b":82.14,"n":5},{"k":58,"a":82.14,"b":88.98,"n":5},{"k":58,"a":88.98,"b":95.83,"n":5},{"k":58,"a":95.83,"b":102.67,"n":110},
{"k":59,"a":0,"b":3.45,"n":2000},{"k":59,"a":3.45,"b":6.89,"n":11710},{"k":59,"a":6.89,"b":10.34,"n":3490},{"k":59,"a":10.34,"b":13.78,"n":1330},{"k":59,"a":13.78,"b":17.23,"n":790},{"k":59,"a":17.23,"b":20.67,"n":600},{"k":59,"a":20.67,"b":24.12,"n":100},{"k":59,"a":24.12,"b":27.56,"n":20},{"k":59,"a":27.56,"b":31.01,"n":100},{"k":59,"a":31.01,"b":34.45,"n":540},{"k":59,"a":34.45,"b":37.9,"n":290},{"k":59,"a":37.9,"b":41.34,"n":100},{"k":59,"a":41.34,"b":44.79,"n":20},{"k":59,"a":44.79,"b":48.23,"n":100},{"k":59,"a":48.23,"b":51.68,"n":10},
{"k":60,"a":0,"b":3.45,"n":2570},{"k":60,"a":3.45,"b":6.89,"n":12300},{"k":60,"a":6.89,"b":10.34,"n":3170},{"k":60,"a":10.34,"b":13.78,"n":800},{"k":60,"a":13.78,"b":17.23,"n":800},{"k":60,"a":17.23,"b":20.67,"n":530},{"k":60,"a":20.67,"b":24.12,"n":230},{"k":60,"a":24.12,"b":27.56,"n":20},{"k":60,"a":27.56,"b":31.01,"n":100},{"k":60,"a":31.01,"b":34.45,"n":500},{"k":60,"a":34.45,"b":37.9,"n":230},{"k":60,"a":37.9,"b":41.34,"n":100},{"k":60,"a":41.34,"b":44.79,"n":20},{"k":60,"a":44.79,"b":48.23,"n":100},{"k":60,"a":48.23,"b":51.68,"n":10},
{"k":61,"a":0.03,"b":22.2,"n":750},{"k":61,"a":22.2,"b":44.4,"n":2590},{"k":61,"a":44.4,"b":66.5,"n":2690},{"k":61,"a":66.5,"b":88.7,"n":2590},{"k":61,"a":88.7,"b":110.8,"n":7240},{"k":61,"a":110.8,"b":133,"n":3920},{"k":61,"a":133,"b":155.2,"n":900},{"k":61,"a":155.2,"b":177.3,"n":330},{"k":61,"a":177.3,"b":199.5,"n":180},{"k":61,"a":199.5,"b":221.7,"n":60},{"k":61,"a":221.7,"b":243.8,"n":60},{"k":61,"a":243.8,"b":266,"n":20},{"k":61,"a":266,"b":288.2,"n":10},{"k":61,"a":288.2,"b":310.3,"n":5},{"k":61,"a":310.3,"b":332.5,"n":5},
{"k":62,"a":0.03,"b":27.2,"n":1640},{"k":62,"a":27.2,"b":54.3,"n":3700},{"k":62,"a":54.3,"b":81.4,"n":6250},{"k":62,"a":81.4,"b":108.5,"n":5680},{"k":62,"a":108.5,"b":135.7,"n":1640},{"k":62,"a":135.7,"b":162.8,"n":780},{"k":62,"a":162.8,"b":189.9,"n":980},{"k":62,"a":189.9,"b":217.1,"n":290},{"k":62,"a":217.1,"b":244.2,"n":100},{"k":62,"a":244.2,"b":271.3,"n":10},{"k":62,"a":271.3,"b":298.4,"n":5},{"k":62,"a":298.4,"b":325.6,"n":5},{"k":62,"a":325.6,"b":352.7,"n":5},{"k":62,"a":352.7,"b":379.8,"n":5},{"k":62,"a":379.8,"b":407,"n":5},
{"k":63,"a":0.03,"b":21.2,"n":13380},{"k":63,"a":21.2,"b":42.4,"n":2580},{"k":63,"a":42.4,"b":63.6,"n":2510},{"k":63,"a":63.6,"b":84.8,"n":1160},{"k":63,"a":84.8,"b":106,"n":950},{"k":63,"a":106,"b":127.2,"n":400},{"k":63,"a":127.2,"b":148.4,"n":290},{"k":63,"a":148.4,"b":169.5,"n":220},{"k":63,"a":169.5,"b":190.7,"n":110},{"k":63,"a":190.7,"b":211.9,"n":110},{"k":63,"a":211.9,"b":233.1,"n":20},{"k":63,"a":233.1,"b":254.3,"n":110},{"k":63,"a":254.3,"b":275.5,"n":10},{"k":63,"a":275.5,"b":296.7,"n":10},{"k":63,"a":296.7,"b":317.9,"n":110},
{"k":64,"a":0.02,"b":25.1,"n":13140},{"k":64,"a":25.1,"b":50.1,"n":3710},{"k":64,"a":50.1,"b":75.2,"n":2430},{"k":64,"a":75.2,"b":100.3,"n":1000},{"k":64,"a":100.3,"b":125.3,"n":360},{"k":64,"a":125.3,"b":150.4,"n":460},{"k":64,"a":150.4,"b":175.5,"n":70},{"k":64,"a":175.5,"b":200.5,"n":70},{"k":64,"a":200.5,"b":225.6,"n":70},{"k":64,"a":225.6,"b":250.7,"n":70},{"k":64,"a":250.7,"b":275.7,"n":70},{"k":64,"a":275.7,"b":300.8,"n":70},{"k":64,"a":300.8,"b":325.9,"n":70},{"k":64,"a":325.9,"b":350.9,"n":10},{"k":64,"a":350.9,"b":376,"n":5},
{"k":65,"a":0,"b":0.109,"n":740},{"k":65,"a":0.109,"b":0.218,"n":440},{"k":65,"a":0.218,"b":0.327,"n":1150},{"k":65,"a":0.327,"b":0.435,"n":2350},{"k":65,"a":0.435,"b":0.544,"n":1810},{"k":65,"a":0.544,"b":0.653,"n":1780},{"k":65,"a":0.653,"b":0.762,"n":2730},{"k":65,"a":0.762,"b":0.871,"n":2400},{"k":65,"a":0.871,"b":0.98,"n":2830},{"k":65,"a":0.98,"b":1.089,"n":1780},{"k":65,"a":1.089,"b":1.198,"n":1460},{"k":65,"a":1.198,"b":1.306,"n":1100},{"k":65,"a":1.306,"b":1.415,"n":400},{"k":65,"a":1.415,"b":1.524,"n":110},{"k":65,"a":1.524,"b":1.633,"n":15},
{"k":66,"a":0,"b":0.107,"n":1080},{"k":66,"a":0.107,"b":0.215,"n":3120},{"k":66,"a":0.215,"b":0.322,"n":3470},{"k":66,"a":0.322,"b":0.43,"n":1630},{"k":66,"a":0.43,"b":0.537,"n":1180},{"k":66,"a":0.537,"b":0.645,"n":1790},{"k":66,"a":0.645,"b":0.752,"n":2850},{"k":66,"a":0.752,"b":0.86,"n":2490},{"k":66,"a":0.86,"b":0.967,"n":1330},{"k":66,"a":0.967,"b":1.075,"n":930},{"k":66,"a":1.075,"b":1.182,"n":860},{"k":66,"a":1.182,"b":1.29,"n":290},{"k":66,"a":1.29,"b":1.397,"n":100},{"k":66,"a":1.397,"b":1.505,"n":40},{"k":66,"a":1.505,"b":1.612,"n":20},
{"k":67,"a":0,"b":28.7,"n":1560},{"k":67,"a":28.7,"b":57.3,"n":1380},{"k":67,"a":57.3,"b":86,"n":2350},{"k":67,"a":86,"b":114.7,"n":1290},{"k":67,"a":114.7,"b":143.3,"n":2440},{"k":67,"a":143.3,"b":172,"n":380},{"k":67,"a":172,"b":200.7,"n":440},{"k":67,"a":200.7,"b":229.3,"n":350},{"k":67,"a":229.3,"b":258,"n":90},{"k":67,"a":258,"b":286.6,"n":90},{"k":67,"a":286.6,"b":315.3,"n":180},{"k":67,"a":315.3,"b":344,"n":90},{"k":67,"a":344,"b":372.6,"n":90},{"k":67,"a":372.6,"b":401.3,"n":10820},{"k":67,"a":401.3,"b":430,"n":180},
{"k":68,"a":0,"b":26.8,"n":4570},{"k":68,"a":26.8,"b":53.5,"n":5410},{"k":68,"a":53.5,"b":80.3,"n":4410},{"k":68,"a":80.3,"b":107.1,"n":4840},{"k":68,"a":107.1,"b":133.8,"n":790},{"k":68,"a":133.8,"b":160.6,"n":350},{"k":68,"a":160.6,"b":187.3,"n":660},{"k":68,"a":187.3,"b":214.1,"n":100},{"k":68,"a":214.1,"b":240.9,"n":30},{"k":68,"a":240.9,"b":267.6,"n":30},{"k":68,"a":267.6,"b":294.4,"n":30},{"k":68,"a":294.4,"b":321.2,"n":30},{"k":68,"a":321.2,"b":347.9,"n":30},{"k":68,"a":347.9,"b":374.7,"n":30},{"k":68,"a":374.7,"b":401.4,"n":5},
{"k":69,"a":0,"b":14.3,"n":1720},{"k":69,"a":14.3,"b":28.7,"n":1650},{"k":69,"a":28.7,"b":43,"n":2620},{"k":69,"a":43,"b":57.3,"n":1880},{"k":69,"a":57.3,"b":71.7,"n":1580},{"k":69,"a":71.7,"b":86,"n":400},{"k":69,"a":86,"b":100.3,"n":320},{"k":69,"a":100.3,"b":114.7,"n":120},{"k":69,"a":114.7,"b":129,"n":120},{"k":69,"a":129,"b":143.3,"n":1880},{"k":69,"a":143.3,"b":157.7,"n":6130},{"k":69,"a":157.7,"b":172,"n":2620},{"k":69,"a":172,"b":186.3,"n":220},{"k":69,"a":186.3,"b":200.7,"n":120},{"k":69,"a":200.7,"b":215,"n":50},
{"k":70,"a":0,"b":14.2,"n":2270},{"k":70,"a":14.2,"b":28.4,"n":2130},{"k":70,"a":28.4,"b":42.7,"n":2540},{"k":70,"a":42.7,"b":56.9,"n":1540},{"k":70,"a":56.9,"b":71.1,"n":1370},{"k":70,"a":71.1,"b":85.3,"n":400},{"k":70,"a":85.3,"b":99.5,"n":140},{"k":70,"a":99.5,"b":113.8,"n":330},{"k":70,"a":113.8,"b":128,"n":440},{"k":70,"a":128,"b":142.2,"n":3040},{"k":70,"a":142.2,"b":156.4,"n":1100},{"k":70,"a":156.4,"b":170.6,"n":4720},{"k":70,"a":170.6,"b":184.9,"n":740},{"k":70,"a":184.9,"b":199.1,"n":670},{"k":70,"a":199.1,"b":213.3,"n":50},
{"k":71,"a":1,"b":1.4,"n":50},{"k":71,"a":1.4,"b":1.8,"n":50},{"k":71,"a":1.8,"b":2.2,"n":1210},{"k":71,"a":2.2,"b":2.6,"n":6350},{"k":71,"a":2.6,"b":3,"n":3480},{"k":71,"a":3,"b":3.4,"n":3220},{"k":71,"a":3.4,"b":3.8,"n":1380},{"k":71,"a":3.8,"b":4.2,"n":1430},{"k":71,"a":4.2,"b":4.6,"n":1640},{"k":71,"a":4.6,"b":5,"n":570},{"k":71,"a":5,"b":5.4,"n":1210},{"k":71,"a":5.4,"b":5.8,"n":530},{"k":71,"a":5.8,"b":6.2,"n":380},{"k":71,"a":6.2,"b":6.6,"n":140},{"k":71,"a":6.6,"b":7,"n":70},
{"k":72,"a":1,"b":1.4,"n":5},{"k":72,"a":1.4,"b":1.8,"n":40},{"k":72,"a":1.8,"b":2.2,"n":6470},{"k":72,"a":2.2,"b":2.6,"n":4000},{"k":72,"a":2.6,"b":3,"n":1580},{"k":72,"a":3,"b":3.4,"n":1580},{"k":72,"a":3.4,"b":3.8,"n":1510},{"k":72,"a":3.8,"b":4.2,"n":1190},{"k":72,"a":4.2,"b":4.6,"n":1580},{"k":72,"a":4.6,"b":5,"n":1160},{"k":72,"a":5,"b":5.4,"n":960},{"k":72,"a":5.4,"b":5.8,"n":510},{"k":72,"a":5.8,"b":6.2,"n":560},{"k":72,"a":6.2,"b":6.6,"n":90},{"k":72,"a":6.6,"b":7,"n":30},
{"k":73,"a":1,"b":1.4,"n":0},{"k":73,"a":1.4,"b":1.8,"n":250},{"k":73,"a":1.8,"b":2.2,"n":3000},{"k":73,"a":2.2,"b":2.6,"n":6960},{"k":73,"a":2.6,"b":3,"n":3360},{"k":73,"a":3,"b":3.4,"n":1280},{"k":73,"a":3.4,"b":3.8,"n":1190},{"k":73,"a":3.8,"b":4.2,"n":1700},{"k":73,"a":4.2,"b":4.6,"n":1300},{"k":73,"a":4.6,"b":5,"n":960},{"k":73,"a":5,"b":5.4,"n":420},{"k":73,"a":5.4,"b":5.8,"n":490},{"k":73,"a":5.8,"b":6.2,"n":340},{"k":73,"a":6.2,"b":6.6,"n":150},{"k":73,"a":6.6,"b":7,"n":10},
{"k":74,"a":1,"b":1.4,"n":40},{"k":74,"a":1.4,"b":1.8,"n":70},{"k":74,"a":1.8,"b":2.2,"n":6960},{"k":74,"a":2.2,"b":2.6,"n":4340},{"k":74,"a":2.6,"b":3,"n":1260},{"k":74,"a":3,"b":3.4,"n":1620},{"k":74,"a":3.4,"b":3.8,"n":1430},{"k":74,"a":3.8,"b":4.2,"n":1280},{"k":74,"a":4.2,"b":4.6,"n":1340},{"k":74,"a":4.6,"b":5,"n":1090},{"k":74,"a":5,"b":5.4,"n":790},{"k":74,"a":5.4,"b":5.8,"n":450},{"k":74,"a":5.8,"b":6.2,"n":490},{"k":74,"a":6.2,"b":6.6,"n":90},{"k":74,"a":6.6,"b":7,"n":40},
{"k":75,"a":0,"b":0.143,"n":280},{"k":75,"a":0.143,"b":0.286,"n":0},{"k":75,"a":0.286,"b":0.428,"n":0},{"k":75,"a":0.428,"b":0.571,"n":190},{"k":75,"a":0.571,"b":0.714,"n":3100},{"k":75,"a":0.714,"b":0.857,"n":90},{"k":75,"a":0.857,"b":1,"n":480},{"k":75,"a":1,"b":1.142,"n":3340},{"k":75,"a":1.142,"b":1.285,"n":590},{"k":75,"a":1.285,"b":1.428,"n":3970},{"k":75,"a":1.428,"b":1.571,"n":2820},{"k":75,"a":1.571,"b":1.714,"n":3880},{"k":75,"a":1.714,"b":1.856,"n":1940},{"k":75,"a":1.856,"b":1.999,"n":620},{"k":75,"a":1.999,"b":2.142,"n":50},
{"k":76,"a":0,"b":0.132,"n":600},{"k":76,"a":0.132,"b":0.264,"n":300},{"k":76,"a":0.264,"b":0.396,"n":380},{"k":76,"a":0.396,"b":0.529,"n":790},{"k":76,"a":0.529,"b":0.661,"n":1600},{"k":76,"a":0.661,"b":0.793,"n":1750},{"k":76,"a":0.793,"b":0.925,"n":1200},{"k":76,"a":0.925,"b":1.057,"n":1800},{"k":76,"a":1.057,"b":1.189,"n":2390},{"k":76,"a":1.189,"b":1.321,"n":4390},{"k":76,"a":1.321,"b":1.453,"n":3610},{"k":76,"a":1.453,"b":1.586,"n":1750},{"k":76,"a":1.586,"b":1.718,"n":510},{"k":76,"a":1.718,"b":1.85,"n":260},{"k":76,"a":1.85,"b":1.982,"n":100},
{"k":77,"a":0,"b":0.4,"n":1440},{"k":77,"a":0.4,"b":0.8,"n":0},{"k":77,"a":0.8,"b":1.2,"n":7380},{"k":77,"a":1.2,"b":1.6,"n":0},{"k":77,"a":1.6,"b":2,"n":0},{"k":77,"a":2,"b":2.4,"n":5120},{"k":77,"a":2.4,"b":2.8,"n":0},{"k":77,"a":2.8,"b":3.2,"n":4340},{"k":77,"a":3.2,"b":3.6,"n":0},{"k":77,"a":3.6,"b":4,"n":0},{"k":77,"a":4,"b":4.4,"n":2300},{"k":77,"a":4.4,"b":4.8,"n":0},{"k":77,"a":4.8,"b":5.2,"n":680},{"k":77,"a":5.2,"b":5.6,"n":0},{"k":77,"a":5.6,"b":6,"n":10},
{"k":78,"a":0,"b":0.466,"n":880},{"k":78,"a":0.466,"b":0.932,"n":4670},{"k":78,"a":0.932,"b":1.399,"n":8790},{"k":78,"a":1.399,"b":1.865,"n":1500},{"k":78,"a":1.865,"b":2.331,"n":1830},{"k":78,"a":2.331,"b":2.797,"n":1070},{"k":78,"a":2.797,"b":3.263,"n":1000},{"k":78,"a":3.263,"b":3.73,"n":1000},{"k":78,"a":3.73,"b":4.196,"n":450},{"k":78,"a":4.196,"b":4.662,"n":140},{"k":78,"a":4.662,"b":5.128,"n":140},{"k":78,"a":5.128,"b":5.594,"n":70},{"k":78,"a":5.594,"b":6.061,"n":70},{"k":78,"a":6.061,"b":6.527,"n":10},{"k":78,"a":6.527,"b":6.993,"n":10},
{"k":79,"a":0,"b":0.2,"n":1420},{"k":79,"a":0.2,"b":0.4,"n":310},{"k":79,"a":0.4,"b":0.6,"n":7100},{"k":79,"a":0.6,"b":0.8,"n":1380},{"k":79,"a":0.8,"b":1,"n":2750},{"k":79,"a":1,"b":1.2,"n":3040},{"k":79,"a":1.2,"b":1.4,"n":1980},{"k":79,"a":1.4,"b":1.6,"n":1980},{"k":79,"a":1.6,"b":1.8,"n":560},{"k":79,"a":1.8,"b":2,"n":350},{"k":79,"a":2,"b":2.2,"n":350},{"k":79,"a":2.2,"b":2.4,"n":60},{"k":79,"a":2.4,"b":2.6,"n":0},{"k":79,"a":2.6,"b":2.8,"n":0},{"k":79,"a":2.8,"b":3,"n":5},
{"k":80,"a":0,"b":0.2,"n":1720},{"k":80,"a":0.2,"b":0.4,"n":5510},{"k":80,"a":0.4,"b":0.6,"n":4610},{"k":80,"a":0.6,"b":0.8,"n":1400},{"k":80,"a":0.8,"b":1,"n":2180},{"k":80,"a":1,"b":1.2,"n":2640},{"k":80,"a":1.2,"b":1.4,"n":1640},{"k":80,"a":1.4,"b":1.6,"n":870},{"k":80,"a":1.6,"b":1.8,"n":430},{"k":80,"a":1.8,"b":2,"n":240},{"k":80,"a":2,"b":2.2,"n":60},{"k":80,"a":2.2,"b":2.4,"n":0},{"k":80,"a":2.4,"b":2.6,"n":0},{"k":80,"a":2.6,"b":2.8,"n":0},{"k":80,"a":2.8,"b":3,"n":0}
]},
"data":{"name":"bins"},
"columns":9,
"spacing":{"row":50,"column":50},
"facet":{"field":"k","type":"ordinal","header":{"title":null,"labelFont":"DejaVu Sans","labelFontSize":11,"labelColor":"black","labelPadding":7,"labelExpr":"['number_of_elements','mean_atomic_mass','wtd_mean_atomic_mass','gmean_atomic_mass','wtd_gmean_atomic_mass','entropy_atomic_mass','wtd_entropy_atomic_mass','range_atomic_mass','wtd_range_atomic_mass','std_atomic_mass','wtd_std_atomic_mass','mean_fie','wtd_mean_fie','gmean_fie','wtd_gmean_fie','entropy_fie','wtd_entropy_fie','range_fie','wtd_range_fie','std_fie','wtd_std_fie','mean_atomic_radius','wtd_mean_atomic_radius','gmean_atomic_radius','wtd_gmean_atomic_radius','entropy_atomic_radius','wtd_entropy_atomic_radius','range_atomic_radius','wtd_range_atomic_radius','std_atomic_radius','wtd_std_atomic_radius','mean_Density','wtd_mean_Density','gmean_Density','wtd_gmean_Density','entropy_Density','wtd_entropy_Density','range_Density','wtd_range_Density','std_Density','wtd_std_Density','mean_ElectronAffinity','wtd_mean_ElectronAffinity','gmean_ElectronAffinity','wtd_gmean_ElectronAffinity','entropy_ElectronAffinity','wtd_entropy_ElectronAffinity','range_ElectronAffinity','wtd_range_ElectronAffinity','std_ElectronAffinity','wtd_std_ElectronAffinity','mean_FusionHeat','wtd_mean_FusionHeat','gmean_FusionHeat','wtd_gmean_FusionHeat','entropy_FusionHeat','wtd_entropy_FusionHeat','range_FusionHeat','wtd_range_FusionHeat','std_FusionHeat','wtd_std_FusionHeat','mean_ThermalConductivity','wtd_mean_ThermalConductivity','gmean_ThermalConductivity','wtd_gmean_ThermalConductivity','entropy_ThermalConductivity','wtd_entropy_ThermalConductivity','range_ThermalConductivity','wtd_range_ThermalConductivity','std_ThermalConductivity','wtd_std_ThermalConductivity','mean_Valence','wtd_mean_Valence','gmean_Valence','wtd_gmean_Valence','entropy_Valence','wtd_entropy_Valence','range_Valence','wtd_range_Valence','std_Valence','wtd_std_Valence'][datum.value]"}},
"resolve":{"scale":{"x":"independent","y":"independent"}},
"spec":{
"width":148,"height":148,
"mark":{"type":"rect","strokeWidth":0},
"encoding":{
"x":{"field":"a","type":"quantitative","scale":{"zero":false,"nice":false,"padding":6.7},"axis":{"title":null,"tickCount":4,"labelFlush":false,"labelExpr":"replace(datum.label, ',', '')"}},
"x2":{"field":"b"},
"y":{"field":"n","type":"quantitative","scale":{"zero":true,"nice":false,"padding":7,"domainMin":0},"axis":{"title":null,"tickCount":6,"labelExpr":"replace(datum.label, ',', '')"}},
"y2":{"datum":0},
"color":{"field":"k","type":"nominal","legend":null,"scale":{"domain":[0,1,2,3,4,5,6,7,8,9,10,11,12,13,14,15,16,17,18,19,20,21,22,23,24,25,26,27,28,29,30,31,32,33,34,35,36,37,38,39,40,41,42,43,44,45,46,47,48,49,50,51,52,53,54,55,56,57,58,59,60,61,62,63,64,65,66,67,68,69,70,71,72,73,74,75,76,77,78,79,80],"range":["#808080","#00ffff","#008000","#0000ff","#0000ff","#800080","#ffff00","#808000","#a52a2a","#ff0000","#ffa500","#00ffff","#008000","#0000ff","#0000ff","#800080","#ffff00","#808000","#a52a2a","#ff0000","#ffa500","#00ffff","#008000","#0000ff","#0000ff","#800080","#ffff00","#808000","#a52a2a","#ff0000","#ffa500","#00ffff","#008000","#0000ff","#0000ff","#800080","#ffff00","#808000","#a52a2a","#ff0000","#ffa500","#00ffff","#008000","#0000ff","#0000ff","#800080","#ffff00","#808000","#a52a2a","#ff0000","#ffa500","#00ffff","#008000","#0000ff","#0000ff","#800080","#ffff00","#808000","#a52a2a","#ff0000","#ffa500","#00ffff","#008000","#0000ff","#0000ff","#800080","#ffff00","#808000","#a52a2a","#ff0000","#ffa500","#00ffff","#008000","#0000ff","#0000ff","#800080","#ffff00","#808000","#a52a2a","#ff0000","#ffa500"]}}
}
},
"config":{
"view":{"stroke":"black","strokeWidth":0.8},
"axis":{"grid":false,"domain":false,"ticks":true,"tickColor":"black","tickSize":4,"tickWidth":0.8,"labelFont":"DejaVu Sans","labelFontSize":8,"labelColor":"black","labelPadding":3}
}
}
